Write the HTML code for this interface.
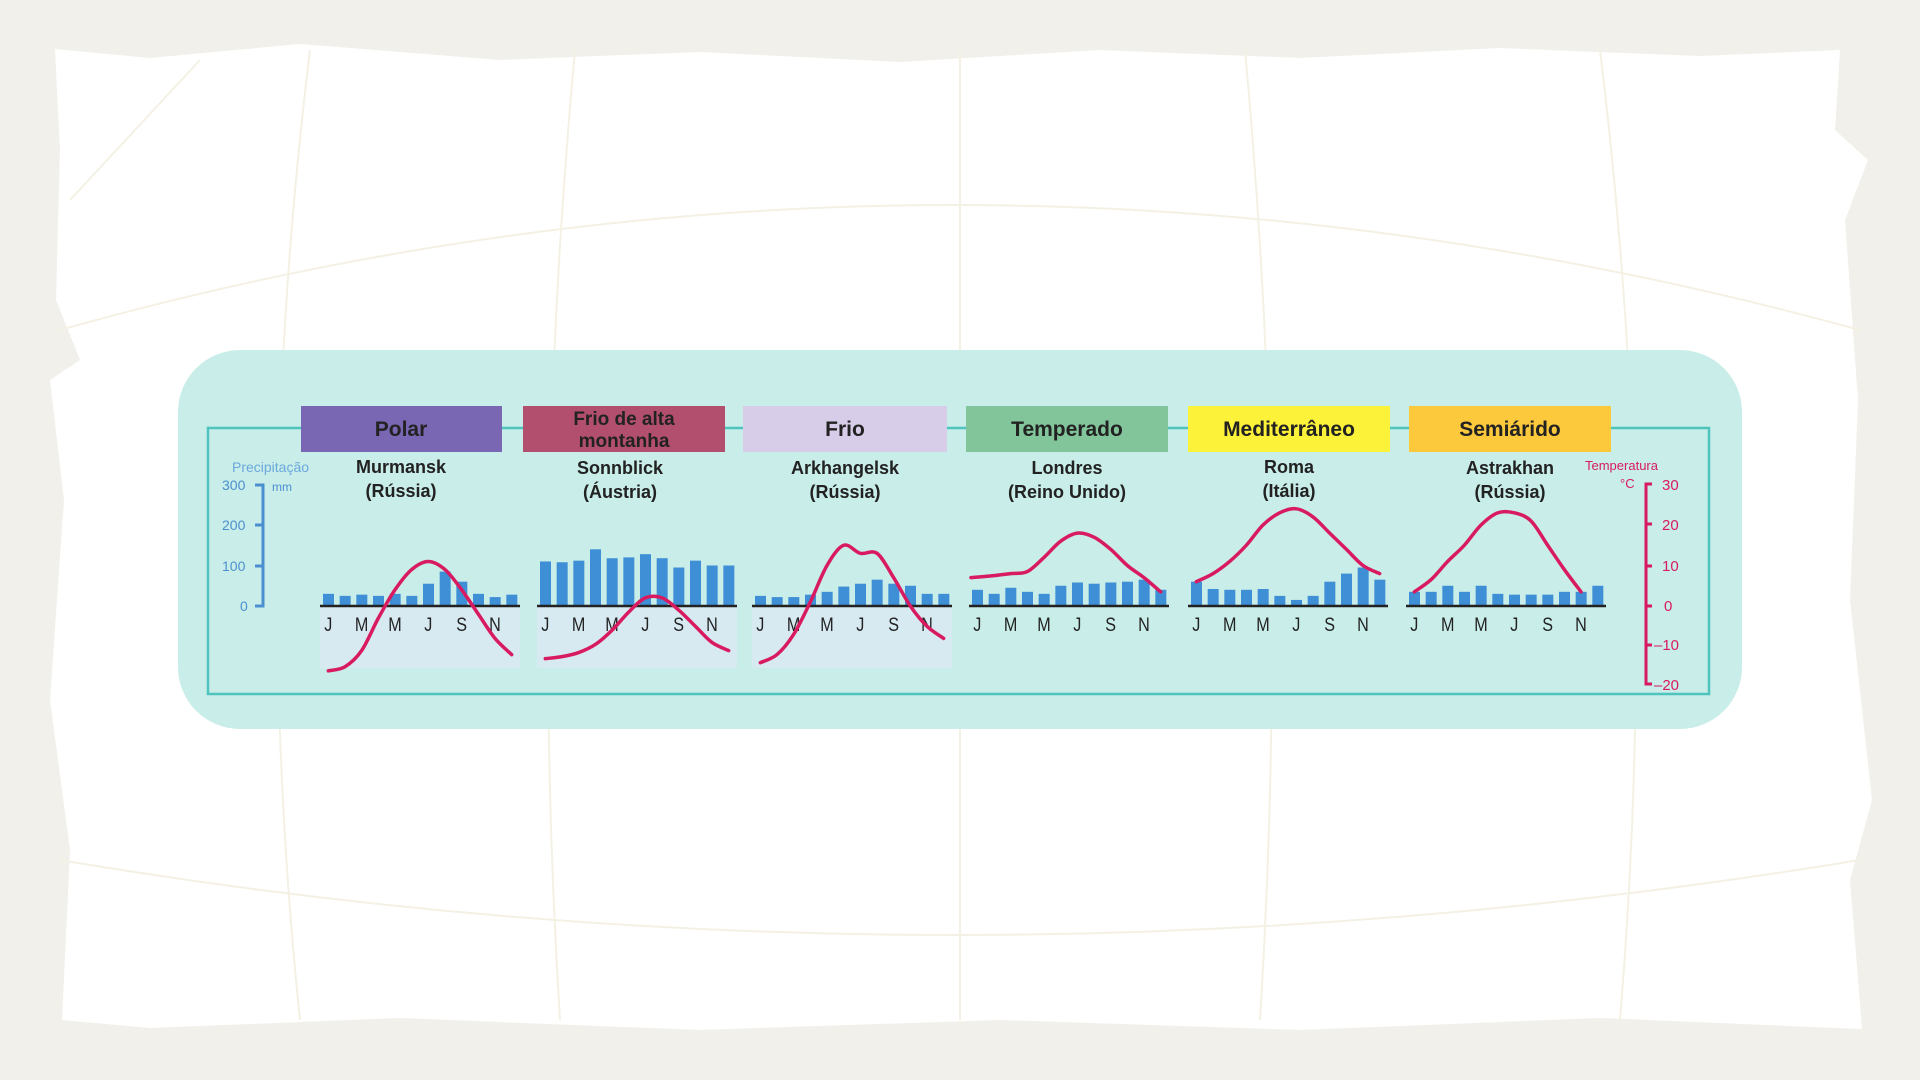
<!DOCTYPE html>
<html><head><meta charset="utf-8"><style>
html,body{margin:0;padding:0;width:1920px;height:1080px;overflow:hidden;background:#f2f0ea}
svg{display:block}
text{font-family:"Liberation Sans",sans-serif}
</style></head><body>
<svg width="1920" height="1080" viewBox="0 0 1920 1080">
<rect width="1920" height="1080" fill="#f2f0ea"/>
<polygon fill="#ffffff" points="55,49 150,58 300,44 500,60 700,52 900,62 1100,50 1300,58 1500,48 1700,56 1840,50 1835,130 1868,160 1845,220 1858,400 1850,600 1872,800 1850,880 1862,1029 1600,1018 1300,1030 1000,1020 700,1030 400,1018 150,1028 62,1020 70,850 50,700 64,500 50,380 80,360 56,300 60,150"/>
<g stroke="#f4f1e4" stroke-width="2" fill="none">
<path d="M60,330 Q950,80 1860,330"/>
<path d="M60,860 Q950,1010 1860,860"/>
<path d="M310,50 Q250,540 300,1020"/>
<path d="M575,50 Q530,540 560,1020"/>
<path d="M960,50 L960,1020"/>
<path d="M1245,50 Q1290,540 1260,1020"/>
<path d="M1600,50 Q1660,540 1620,1020"/>
<path d="M70,200 L200,60"/>
</g>
<rect x="178" y="350" width="1564" height="379" rx="62" fill="#c9ede8"/>
<rect x="208" y="428" width="1501" height="266" fill="none" stroke="#4fc3bd" stroke-width="2.5"/>
<g font-weight="bold" font-size="21" text-anchor="middle" fill="#222">
<rect x="301" y="406" width="201" height="46" fill="#7a67b3"/><text x="401" y="436">Polar</text>
<rect x="523" y="406" width="202" height="46" fill="#b24f6e"/><text x="624" y="425" font-size="19">Frio de alta</text><text x="624" y="447" font-size="19">montanha</text>
<rect x="743" y="406" width="204" height="46" fill="#d8cde8"/><text x="845" y="436">Frio</text>
<rect x="966" y="406" width="202" height="46" fill="#82c59a"/><text x="1067" y="436">Temperado</text>
<rect x="1188" y="406" width="202" height="46" fill="#fdf23a"/><text x="1289" y="436">Mediterrâneo</text>
<rect x="1409" y="406" width="202" height="46" fill="#fdc93c"/><text x="1510" y="436">Semiárido</text>
</g>
<g font-weight="bold" font-size="18" text-anchor="middle" fill="#222">
<text x="401" y="473">Murmansk</text><text x="401" y="497">(Rússia)</text>
<text x="620" y="474">Sonnblick</text><text x="620" y="498">(Áustria)</text>
<text x="845" y="474">Arkhangelsk</text><text x="845" y="498">(Rússia)</text>
<text x="1067" y="474">Londres</text><text x="1067" y="498">(Reino Unido)</text>
<text x="1289" y="473">Roma</text><text x="1289" y="497">(Itália)</text>
<text x="1510" y="474">Astrakhan</text><text x="1510" y="498">(Rússia)</text>
</g>
<g fill="#4a90d0" font-size="14">
<text x="232" y="472" fill="#6aa8dd">Precipitação</text>
<text x="222" y="490">300</text><text x="272" y="491" font-size="12">mm</text>
<text x="222" y="530">200</text><text x="222" y="571">100</text><text x="240" y="611">0</text>
</g>
<path d="M255,485 H263 V606 H255 M255,525 H263 M255,566 H263" stroke="#4a90d0" stroke-width="3" fill="none"/>
<g fill="#d81b60" font-size="15">
<text x="1585" y="470" font-size="13">Temperatura</text>
<text x="1620" y="488" font-size="13">°C</text>
<text x="1662" y="490">30</text><text x="1662" y="530">20</text><text x="1662" y="571">10</text>
<text x="1664" y="611">0</text><text x="1654" y="650">–10</text><text x="1654" y="690">–20</text>
</g>
<path d="M1652,484 H1646 V684 H1652 M1646,524 H1652 M1646,566 H1652 M1646,606 H1652 M1646,645 H1652" stroke="#d81b60" stroke-width="3" fill="none"/>
<g id="charts"></g>
</svg>
<script>
const data=[
{x:320,p:[30,25,28,25,30,25,55,85,60,30,22,28],t:[-16,-15,-11,-3,4,9,11,9,4,-2,-8,-12],neg:true},
{x:537,p:[110,108,112,140,118,120,128,118,95,112,100,100],t:[-13,-12.5,-11.5,-9.5,-6,-1.5,2,2,-1,-5,-9,-11],neg:true},
{x:752,p:[25,22,22,28,35,48,55,65,55,50,30,30],t:[-14,-12,-7,1,10,15,13,13,7,0,-5,-8],neg:true},
{x:969,p:[40,30,45,35,30,50,58,55,58,60,65,40],t:[null,7.5,8,8.5,12,16,18,17,14,10,7,3.5]},
{x:1188,p:[60,42,40,40,42,25,15,25,60,80,95,65],t:[6,8,11,15,20,23,24,22,18,14,10,8]},
{x:1406,p:[35,35,50,35,50,30,28,28,28,35,35,50],t:[3.5,6.5,11,15,20,23,23,21,15,9,3.5,null]}];
const g=document.getElementById('charts');
const B=606,S=0.405,W=200,st=W/12;let h='';
data.forEach(d=>{
 if(d.neg)h+=`<rect x="${d.x}" y="${B}" width="${W}" height="62" fill="#d7eaf2"/>`;
 d.p.forEach((v,i)=>{h+=`<rect x="${d.x+i*st+3}" y="${B-v*S}" width="11" height="${v*S}" fill="#3e8fd6"/>`;});
 h+=`<line x1="${d.x}" y1="${B}" x2="${d.x+W}" y2="${B}" stroke="#222" stroke-width="2.5"/>`;
 ['J','M','M','J','S','N'].forEach((m,k)=>{h+=`<text x="${d.x+(2*k)*st+st/2}" y="631" font-size="19" text-anchor="middle" fill="#222" transform="translate(${d.x+(2*k)*st+st/2},0) scale(0.85,1) translate(${-(d.x+(2*k)*st+st/2)},0)">${m}</text>`;});
 let pts=[];d.t.forEach((v,i)=>{if(v!==null)pts.push([d.x+i*st+st/2,B-v*4.05]);});
 if(d.x===969)pts.unshift([d.x+2,B-7*4.05]);
 let p='M'+pts[0].join(',');
 for(let i=1;i<pts.length;i++){
  const p0=pts[Math.max(0,i-2)],p1=pts[i-1],p2=pts[i],p3=pts[Math.min(pts.length-1,i+1)];
  const c1=[p1[0]+(p2[0]-p0[0])/6,p1[1]+(p2[1]-p0[1])/6],c2=[p2[0]-(p3[0]-p1[0])/6,p2[1]-(p3[1]-p1[1])/6];
  p+=` C${c1} ${c2} ${p2}`;}
 h+=`<path d="${p}" stroke="#d81b60" stroke-width="3.5" fill="none" stroke-linecap="round"/>`;
});
g.innerHTML=h;
</script>
</body></html>
